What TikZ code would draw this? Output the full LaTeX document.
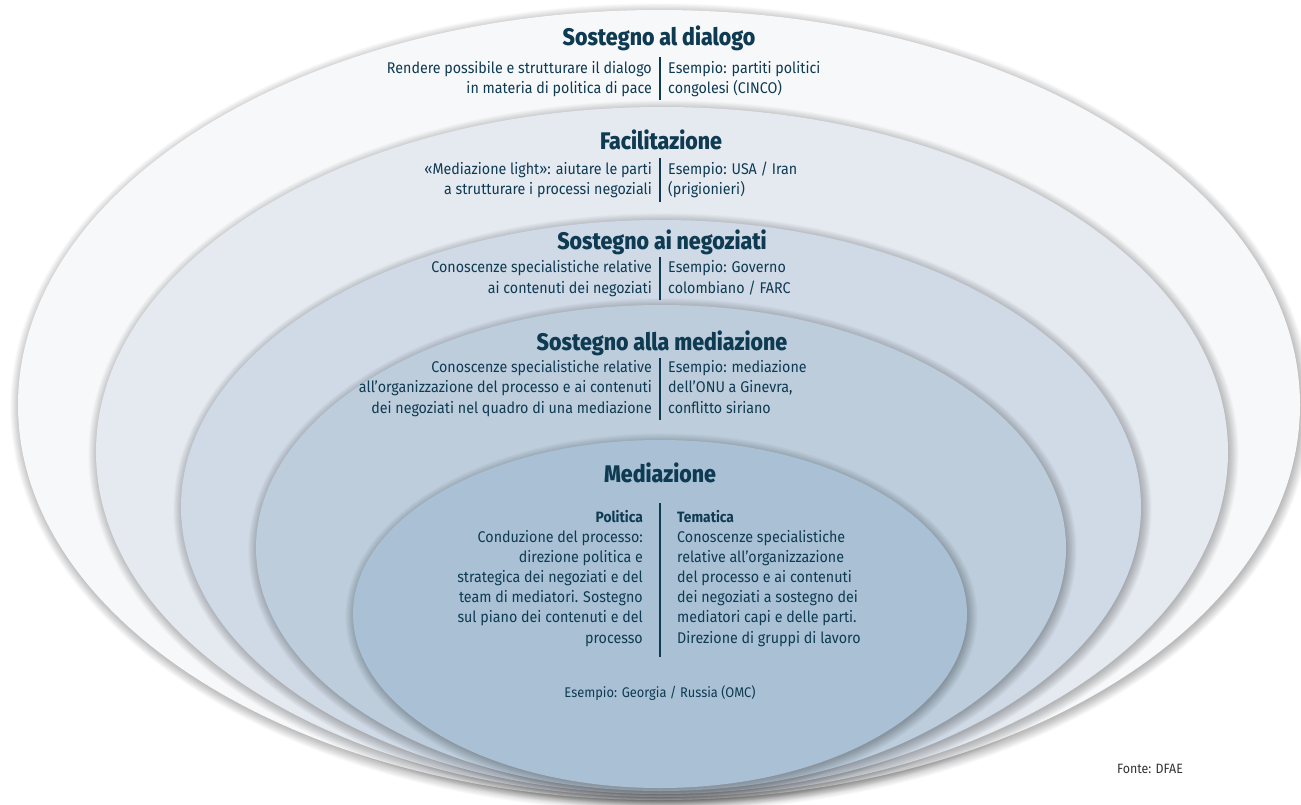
\documentclass[tikz,border=0pt]{standalone}
\usepackage{fontspec}
\setmainfont{Fira Sans}[FakeStretch=0.92]
\IfFontExistsTF{Fira Sans ExtraBold}
  {\newfontfamily\heavyfont{Fira Sans ExtraBold}[FakeStretch=0.89]}
  {\newcommand\heavyfont{\bfseries}}
\definecolor{txt}{HTML}{0E3A52}
\definecolor{cA}{HTML}{F7F8FA}
\definecolor{cB}{HTML}{E5EAF1}
\definecolor{cC}{HTML}{CFDAE6}
\definecolor{cD}{HTML}{BDCDDC}
\definecolor{cE}{HTML}{AAC1D5}
\definecolor{src}{HTML}{333333}
\newcommand\shadowell[4]{%
  \foreach \k in {1,...,14}{\fill[black,opacity=0.02] (#1+1.5,#2+2.5) ellipse [x radius=#3+0.8*\k-2, y radius=#4+0.8*\k-2];}}
\begin{document}
\begin{tikzpicture}[x=1pt,y=-1pt,
  ttl/.style={anchor=base, inner sep=0pt, text=txt, font=\fontsize{24}{26}\selectfont\heavyfont},
  lft/.style={anchor=base east, align=right, inner sep=0pt, text=txt, font=\fontsize{15.5}{20.2}\selectfont},
  rgt/.style={anchor=base west, align=left, inner sep=0pt, text=txt, font=\fontsize{15.5}{20.2}\selectfont},
  sub/.style={inner sep=0pt, text=txt, font=\fontsize{15}{20}\selectfont\bfseries},
  divline/.style={draw=txt, line width=1.2pt}]
\useasboundingbox (0,0) rectangle (1301,805);
\fill[white] (0,0) rectangle (1301,805);
% ellipses
\shadowell{659}{405}{641}{395}
\fill[cA] (659,405) ellipse [x radius=641, y radius=395];
\shadowell{662}{452}{566}{345}
\fill[cB] (662,452) ellipse [x radius=566, y radius=345];
\shadowell{661}{507}{480}{287}
\fill[cC] (661,507) ellipse [x radius=480, y radius=287];
\shadowell{661}{548}{405}{243}
\fill[cD] (661,548) ellipse [x radius=405, y radius=243];
\shadowell{660}{614}{307}{174}
\fill[cE] (660,614) ellipse [x radius=307, y radius=174];
% Sostegno al dialogo
\node[ttl] (t1) at (659,46) {Sostegno al dialogo};
\node[lft] (l1) at (652,94) {Rendere possibile e strutturare il dialogo\\in materia di politica di pace};
\node[rgt] (r1) at (668,94) {Esempio: partiti politici\\congolesi (CINCO)};
\coordinate (d1a) at (660,57); \coordinate (d1b) at (660,100);
\draw[divline] (d1a) -- (d1b);
% Facilitazione
\node[ttl] (t2) at (661,150) {Facilitazione};
\node[lft] (l2) at (652,195) {«Mediazione light»: aiutare le parti\\a strutturare i processi negoziali};
\node[rgt] (r2) at (668,195) {Esempio: USA / Iran\\(prigionieri)};
\coordinate (d2a) at (660,158); \coordinate (d2b) at (660,202);
\draw[divline] (d2a) -- (d2b);
% Sostegno ai negoziati
\node[ttl] (t3) at (662,250) {Sostegno ai negoziati};
\node[lft] (l3) at (652,293) {Conoscenze specialistiche relative\\ai contenuti dei negoziati};
\node[rgt] (r3) at (668,293) {Esempio: Governo\\colombiano / FARC};
\coordinate (d3a) at (660,257); \coordinate (d3b) at (660,300);
\draw[divline] (d3a) -- (d3b);
% Sostegno alla mediazione
\node[ttl] (t4) at (662,350) {Sostegno alla mediazione};
\node[lft] (l4) at (652,413) {Conoscenze specialistiche relative\\all’organizzazione del processo e ai contenuti\\dei negoziati nel quadro di una mediazione};
\node[rgt] (r4) at (668,413) {Esempio: mediazione\\dell’ONU a Ginevra,\\conflitto siriano};
\coordinate (d4a) at (660,358); \coordinate (d4b) at (660,420);
\draw[divline] (d4a) -- (d4b);
% Mediazione
\node[ttl] (t5) at (660,482) {Mediazione};
\node[sub, anchor=base east] (p5) at (643,522) {Politica};
\node[sub, anchor=base west] (m5) at (677,522) {Tematica};
\node[lft] (l5) at (643,643) {Conduzione del processo:\\direzione politica e\\strategica dei negoziati e del\\team di mediatori. Sostegno\\sul piano dei contenuti e del\\processo};
\node[rgt] (r5) at (677,643) {Conoscenze specialistiche\\relative all’organizzazione\\del processo e ai contenuti\\dei negoziati a sostegno dei\\mediatori capi e delle parti.\\Direzione di gruppi di lavoro};
\coordinate (d5a) at (660,503); \coordinate (d5b) at (660,657);
\draw[divline] (d5a) -- (d5b);
\node[inner sep=0pt, anchor=base, text=txt, font=\fontsize{14}{16}\selectfont] (e5) at (660,697) {Esempio: Georgia / Russia (OMC)};
% source
\node[inner sep=0pt, anchor=base, text=src, font=\fontsize{13.5}{15}\selectfont] (fonte) at (1150,773) {Fonte: DFAE};
\end{tikzpicture}
\end{document}
